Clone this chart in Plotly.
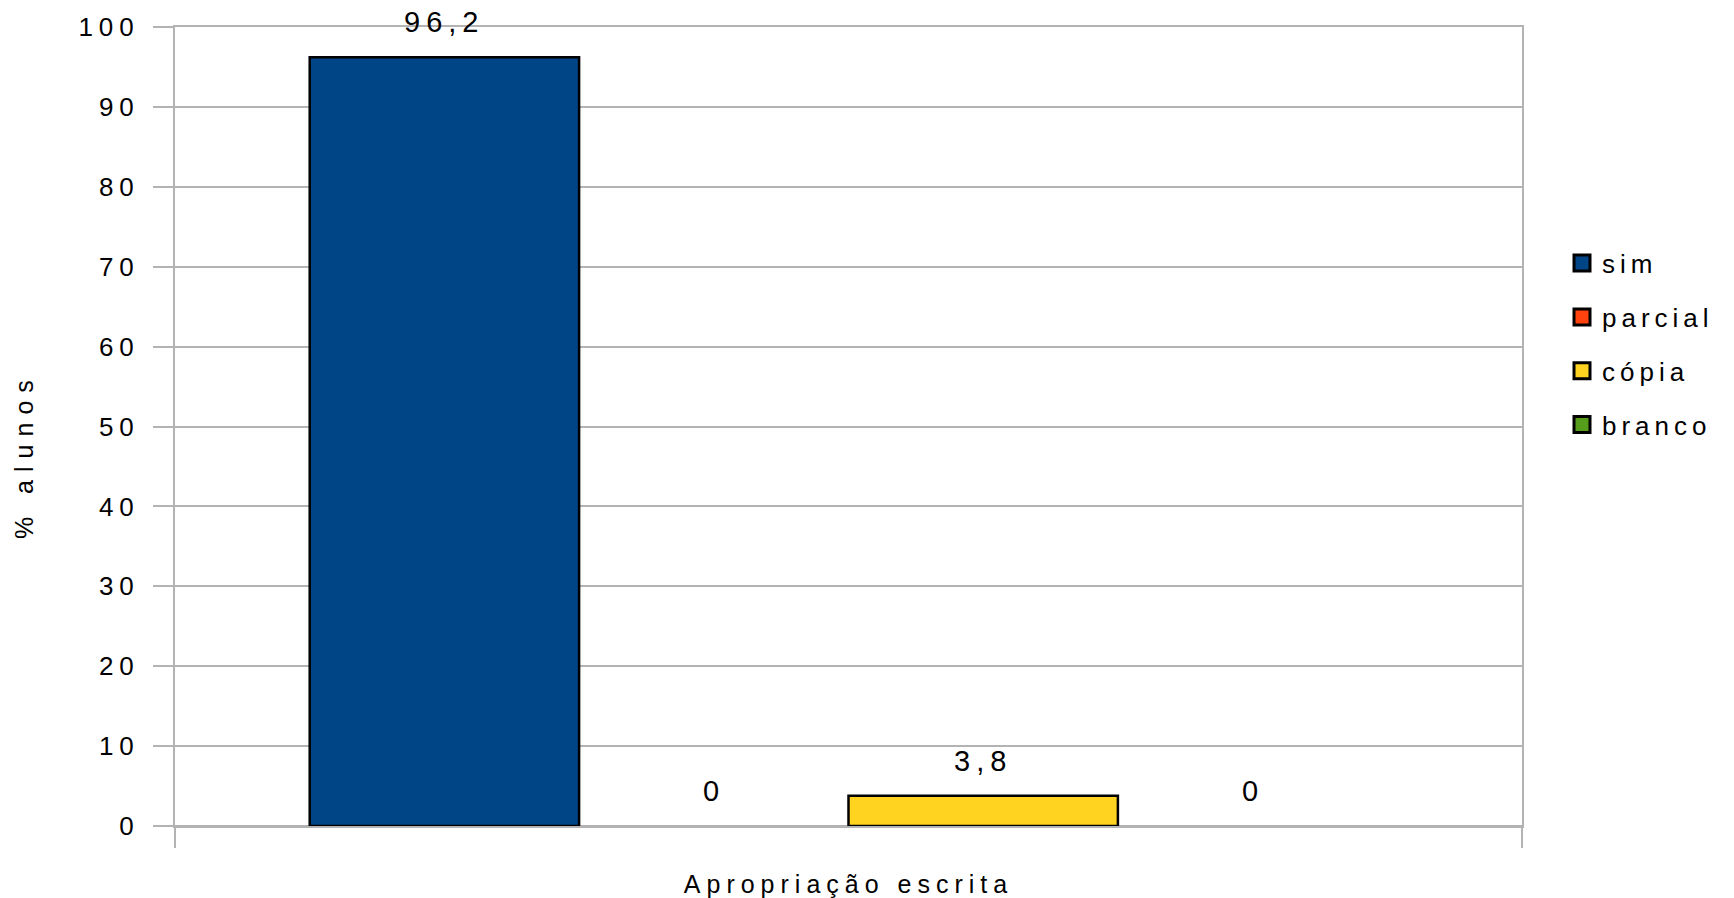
import plotly.graph_objects as go

# ---- data ----
categories = ["Apropriação escrita"]
series_names = ["sim", "parcial", "cópia", "branco"]
series_values = [96.2, 0, 3.8, 0]
value_labels = ["96,2", "0", "3,8", "0"]
series_colors = ["#004586", "#ff420e", "#ffd320", "#579d1c"]
y_tick_values = [0, 10, 20, 30, 40, 50, 60, 70, 80, 90, 100]
y_tick_labels = ["0", "10", "20", "30", "40", "50", "60", "70", "80", "90", "100"]
y_title = "% alunos"

FONT = "Liberation Sans"
GRID = "#b3b3b3"
BARGAP = 0.2


def spaced(text, px):
    return f'<span style="letter-spacing:{px}px">{text}</span>'


fig = go.Figure()
n = len(series_names)
for i, (name, val, col) in enumerate(zip(series_names, series_values, series_colors)):
    fig.add_trace(go.Bar(
        x=categories, y=[val], name=name, legendgroup=name, showlegend=False,
        marker=dict(color=col, line=dict(color="black", width=2.5 if val else 0)),
        cliponaxis=False,
    ))
    # legend entry (larger swatch)
    fig.add_trace(go.Scatter(
        x=[None], y=[None], mode="markers", name=spaced(name, 5), legendgroup=name,
        marker=dict(symbol="square", size=16, color=col, line=dict(color="black", width=3)),
    ))
    # value label above bar
    offset = (i - (n - 1) / 2) * (1 - BARGAP) / n
    fig.add_annotation(
        x=offset, y=val, xref="x", yref="y", text=spaced(value_labels[i], 6),
        showarrow=False, yanchor="bottom", xanchor="center", yshift=17, xshift=0,
        font=dict(family=FONT, size=29, color="black"),
    )

fig.add_annotation(
    x=-0.1121, y=0.463, xref="paper", yref="paper", text=spaced(y_title, 8),
    textangle=-90, showarrow=False, xanchor="center", yanchor="middle",
    font=dict(family=FONT, size=25, color="black"),
)

fig.update_layout(
    width=1734, height=898,
    margin=dict(l=175, r=212, t=27, b=72, autoexpand=False),
    paper_bgcolor="white", plot_bgcolor="white",
    barmode="group", bargap=BARGAP, bargroupgap=0,
    font=dict(family=FONT, size=25, color="black"),
    showlegend=True,
    legend=dict(
        x=1.0297, xanchor="left", y=0.603, yanchor="middle",
        font=dict(family=FONT, size=26, color="black"),
        traceorder="grouped", tracegroupgap=17, itemsizing="trace",
        bgcolor="rgba(0,0,0,0)",
    ),
    xaxis=dict(
        type="category", range=[-0.5, 0.5],
        tickmode="array", tickvals=categories,
        ticktext=[spaced(c, 6) for c in categories],
        tickson="boundaries", ticks="outside", ticklen=20, tickwidth=2, tickcolor=GRID,
        showgrid=True, gridcolor=GRID, gridwidth=2,
        showline=True, linecolor=GRID, linewidth=2, mirror=True,
        ticklabelstandoff=35,
        tickfont=dict(family=FONT, size=25, color="black"),
    ),
    yaxis=dict(
        range=[0, 100], tickmode="array", tickvals=y_tick_values,
        ticktext=[spaced(t, 6) for t in y_tick_labels],
        ticks="outside", ticklen=20, tickwidth=2, tickcolor=GRID,
        showgrid=True, gridcolor=GRID, gridwidth=2,
        zeroline=True, zerolinecolor=GRID, zerolinewidth=2,
        showline=True, linecolor=GRID, linewidth=2, mirror=True,
        ticklabelstandoff=8,
        tickfont=dict(family=FONT, size=26, color="black"),
    ),
)

fig.write_html(
    "out.html",
    config={"displayModeBar": False},
    post_script="document.body.style.margin='0';document.body.style.overflow='hidden';",
)
